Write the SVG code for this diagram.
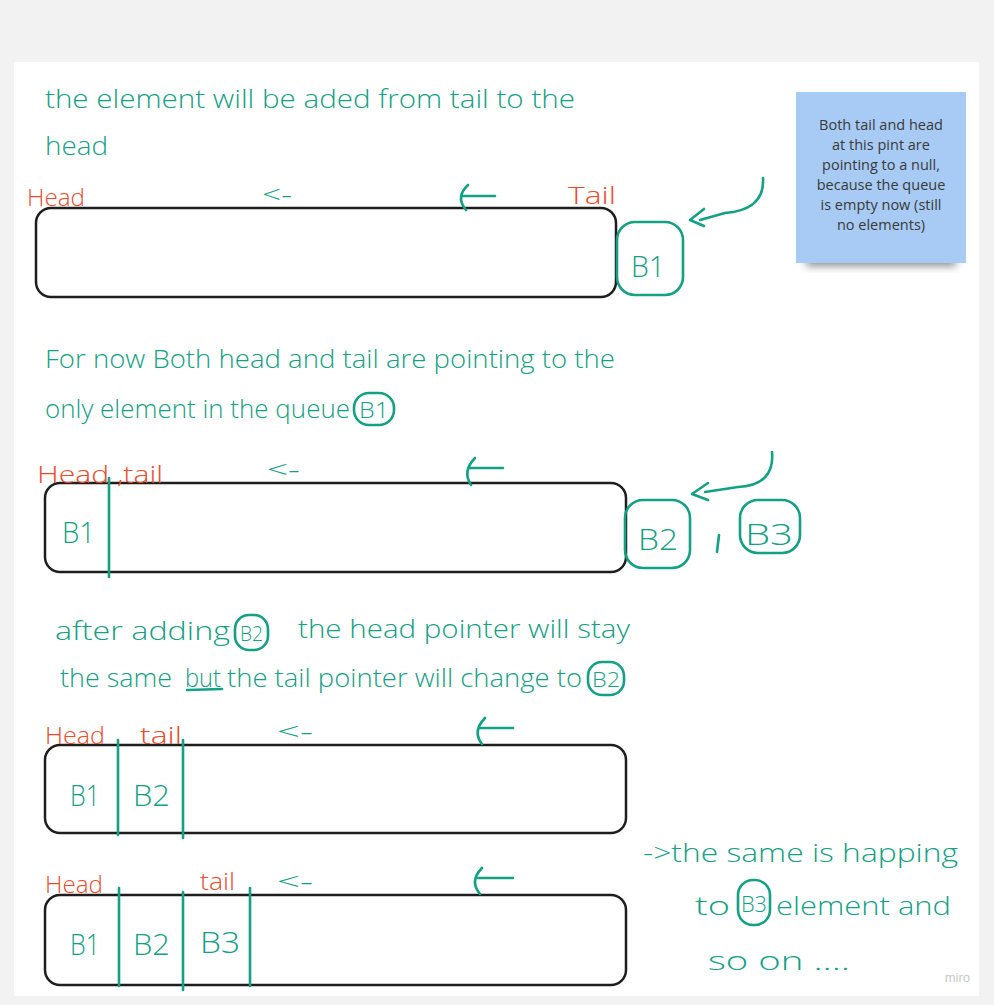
<svg xmlns="http://www.w3.org/2000/svg" width="994" height="1005" viewBox="0 0 994 1005">
<defs>
<style>
.g{fill:#14a083;font-family:"Open Sans","Liberation Sans",sans-serif;font-weight:300}
.r{fill:#ea4b2c;font-family:"Open Sans","Liberation Sans",sans-serif;font-weight:300}
.gs{fill:none;stroke:#14a083;stroke-width:2.6;stroke-linecap:round;stroke-linejoin:round}
.box{fill:#fff;stroke:#1e1e1e;stroke-width:2.5}
.note{font-family:"Open Sans","Liberation Sans",sans-serif;font-size:14.5px;fill:#3a3a3a;text-anchor:middle}
.b{font-size:30px}
.t{font-size:26px}
.s{font-size:24px}
</style>
<filter id="sh" x="-20%" y="-20%" width="140%" height="160%">
<feGaussianBlur stdDeviation="4"/>
</filter>
</defs>
<rect width="994" height="1005" fill="#f2f2f2"/>
<rect x="14" y="62" width="965" height="934" fill="#ffffff"/>

<g id="note">
<rect x="806" y="250" width="150" height="16" fill="#000" opacity="0.45" filter="url(#sh)"/>
<rect x="796" y="92" width="170" height="171" fill="#a7cbf4"/>
<text class="note" x="881" y="130">Both tail and head</text>
<text class="note" x="881" y="150">at this pint are</text>
<text class="note" x="881" y="170">pointing to a null,</text>
<text class="note" x="881" y="190">because the queue</text>
<text class="note" x="881" y="210">is empty now (still</text>
<text class="note" x="881" y="230">no elements)</text>
</g>

<g id="text1">
<text class="g t" x="45" y="108" textLength="530" lengthAdjust="spacingAndGlyphs">the element will be aded from tail to the</text>
<text class="g t" x="45" y="155" textLength="63" lengthAdjust="spacingAndGlyphs">head</text>
</g>

<g id="queue1">
<rect class="box" x="36" y="208" width="580" height="89" rx="15"/>
<text class="r s" x="27" y="206" textLength="58" lengthAdjust="spacingAndGlyphs">Head</text>
<text class="r s" x="568" y="204" textLength="48" lengthAdjust="spacingAndGlyphs">Tail</text>
<text class="g s" x="262" y="203" textLength="30" lengthAdjust="spacingAndGlyphs">&lt;-</text>
</g>

<g id="b1">
<rect class="gs" x="617" y="222" width="66" height="73" rx="18"/>
<text class="g b" x="631" y="277" textLength="34" lengthAdjust="spacingAndGlyphs">B1</text>
</g>

<g id="text2">
<text class="g t" x="45" y="368" textLength="570" lengthAdjust="spacingAndGlyphs">For now Both head and tail are pointing to the</text>
<text class="g t" x="45" y="418" textLength="305" lengthAdjust="spacingAndGlyphs">only element in the queue</text>
<rect class="gs" x="354" y="393" width="40" height="32" rx="15"/>
<text class="g" x="359" y="418" font-size="22" textLength="30" lengthAdjust="spacingAndGlyphs">B1</text>
</g>

<g id="queue2">
<rect class="box" x="45" y="483" width="581" height="89" rx="15"/>
<text class="r s" x="37" y="483" textLength="126" lengthAdjust="spacingAndGlyphs">Head ,tail</text>
<text class="g s" x="267" y="478" textLength="33" lengthAdjust="spacingAndGlyphs">&lt;-</text>
<text class="g b" x="62" y="543" textLength="33" lengthAdjust="spacingAndGlyphs">B1</text>
</g>

<g id="b2b3">
<rect class="gs" x="625" y="500" width="65" height="68" rx="18"/>
<text class="g b" x="638" y="550" textLength="40" lengthAdjust="spacingAndGlyphs">B2</text>
<path class="gs" d="M719 535 L717 552"/>
<rect class="gs" x="740" y="500" width="60" height="53" rx="18"/>
<text class="g b" x="745" y="545" textLength="48" lengthAdjust="spacingAndGlyphs">B3</text>
</g>

<g id="text3">
<text class="g t" x="55" y="640" textLength="175" lengthAdjust="spacingAndGlyphs">after adding</text>
<rect class="gs" x="235" y="615" width="33" height="35" rx="14"/>
<text class="g" x="240" y="641" font-size="20" textLength="23" lengthAdjust="spacingAndGlyphs">B2</text>
<text class="g t" x="298" y="638" textLength="332" lengthAdjust="spacingAndGlyphs">the head pointer will stay</text>
<text class="g t" x="60" y="687" textLength="112" lengthAdjust="spacingAndGlyphs">the same</text>
<text class="g t" x="185" y="687" textLength="36" lengthAdjust="spacingAndGlyphs">but</text>
<path class="gs" d="M187 690 L222 689"/>
<text class="g t" x="227" y="687" textLength="355" lengthAdjust="spacingAndGlyphs">the tail pointer will change to</text>
<rect class="gs" x="588" y="662" width="36" height="33" rx="14"/>
<text class="g" x="592" y="687" font-size="20" textLength="28" lengthAdjust="spacingAndGlyphs">B2</text>
</g>

<g id="queue3">
<rect class="box" x="45" y="745" width="581" height="88" rx="15"/>
<text class="r s" x="45" y="744" textLength="60" lengthAdjust="spacingAndGlyphs">Head</text>
<text class="r s" x="140" y="744" textLength="42" lengthAdjust="spacingAndGlyphs">tail</text>
<text class="g s" x="277" y="740" textLength="36" lengthAdjust="spacingAndGlyphs">&lt;-</text>
<text class="g b" x="70" y="806" textLength="30" lengthAdjust="spacingAndGlyphs">B1</text>
<text class="g b" x="133" y="806" textLength="37" lengthAdjust="spacingAndGlyphs">B2</text>
</g>

<g id="queue4">
<rect class="box" x="45" y="895" width="581" height="90" rx="15"/>
<text class="r s" x="45" y="893" textLength="58" lengthAdjust="spacingAndGlyphs">Head</text>
<text class="r s" x="200" y="890" textLength="35" lengthAdjust="spacingAndGlyphs">tail</text>
<text class="g s" x="277" y="890" textLength="36" lengthAdjust="spacingAndGlyphs">&lt;-</text>
<text class="g b" x="70" y="955" textLength="30" lengthAdjust="spacingAndGlyphs">B1</text>
<text class="g b" x="133" y="955" textLength="37" lengthAdjust="spacingAndGlyphs">B2</text>
<text class="g b" x="200" y="953" textLength="40" lengthAdjust="spacingAndGlyphs">B3</text>
</g>

<g id="text4">
<text class="g t" x="643" y="862" textLength="315" lengthAdjust="spacingAndGlyphs">-&gt;the same is happing</text>
<text class="g t" x="695" y="915" textLength="35" lengthAdjust="spacingAndGlyphs">to</text>
<rect class="gs" x="738" y="880" width="32" height="45" rx="15"/>
<text class="g" x="741" y="912" font-size="22" textLength="26" lengthAdjust="spacingAndGlyphs">B3</text>
<text class="g t" x="776" y="915" textLength="175" lengthAdjust="spacingAndGlyphs">element and</text>
<text class="g t" x="708" y="970" textLength="142" lengthAdjust="spacingAndGlyphs">so on ....</text>
</g>

<g id="connectors">
<path class="gs" d="M462 196 L495 196 M468 185 Q455 197 466 210"/>
<path class="gs" d="M470 468 L503 468 M475 458 Q462 471 471 485"/>
<path class="gs" d="M480 728 L513 728 M485 718 Q472 731 482 744"/>
<path class="gs" d="M478 878 L513 878 M482 868 Q469 881 480 894"/>
<path class="gs" d="M763 178 Q765 210 725 213 L700 220 M704 209 L690 220 L704 226"/>
<path class="gs" d="M772 452 Q775 485 738 487 L705 492 M708 483 L692 494 L708 500"/>
<path class="gs" d="M109 478 L109 577"/>
<path class="gs" d="M118 740 L118 835"/>
<path class="gs" d="M183 740 L183 838"/>
<path class="gs" d="M119 888 L119 986"/>
<path class="gs" d="M183 892 L183 990"/>
<path class="gs" d="M250 888 L250 986"/>
</g>
<text x="970" y="982" font-family="Liberation Sans, sans-serif" font-size="13" fill="#c8c8c8" text-anchor="end">miro</text>
</svg>
